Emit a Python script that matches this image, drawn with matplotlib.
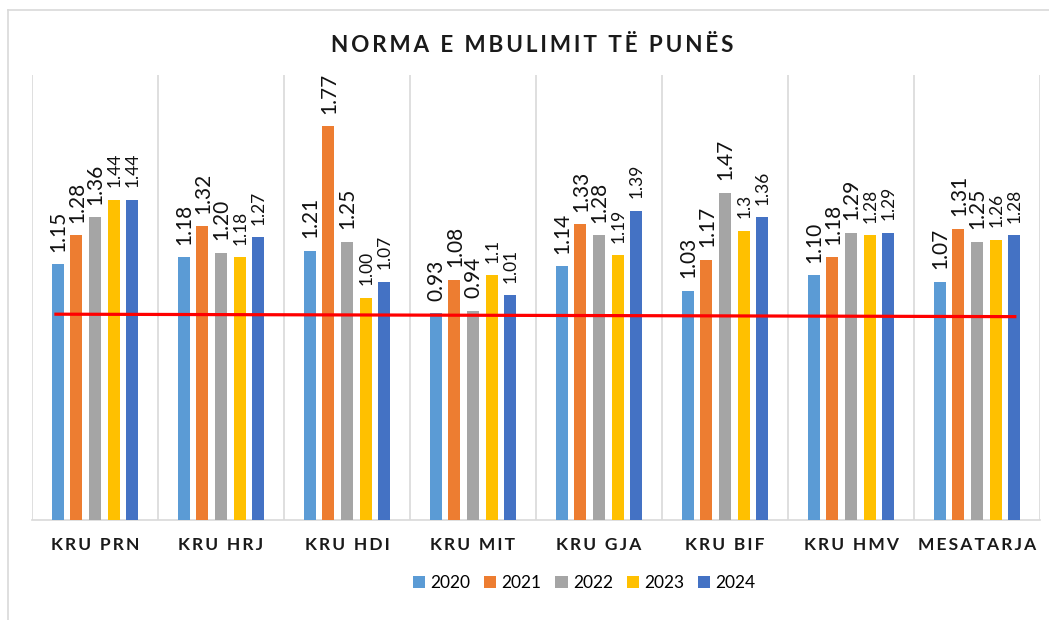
import matplotlib
matplotlib.use("Agg")
import matplotlib.pyplot as plt
import numpy as np

categories = ["KRU PRN", "KRU HRJ", "KRU HDI", "KRU MIT", "KRU GJA", "KRU BIF", "KRU HMV", "MESATARJA"]
years = ["2020", "2021", "2022", "2023", "2024"]
v2020 = [1.15, 1.18, 1.21, 0.93, 1.14, 1.03, 1.10, 1.07]
v2021 = [1.28, 1.32, 1.77, 1.08, 1.33, 1.17, 1.18, 1.31]
v2022 = [1.36, 1.20, 1.25, 0.94, 1.28, 1.47, 1.29, 1.25]
v2023 = [1.44, 1.18, 1.00, 1.10, 1.19, 1.30, 1.28, 1.26]
v2024 = [1.44, 1.27, 1.07, 1.01, 1.39, 1.36, 1.29, 1.28]
labels2020 = ["1.15", "1.18", "1.21", "0.93", "1.14", "1.03", "1.10", "1.07"]
labels2021 = ["1.28", "1.32", "1.77", "1.08", "1.33", "1.17", "1.18", "1.31"]
labels2022 = ["1.36", "1.20", "1.25", "0.94", "1.28", "1.47", "1.29", "1.25"]
labels2023 = ["1.44", "1.18", "1.00", "1.1", "1.19", "1.3", "1.28", "1.26"]
labels2024 = ["1.44", "1.27", "1.07", "1.01", "1.39", "1.36", "1.29", "1.28"]
red_line = [0.925, 0.914]

series = [v2020, v2021, v2022, v2023, v2024]
series_labels = [labels2020, labels2021, labels2022, labels2023, labels2024]
colors = ["#5B9BD5", "#ED7D31", "#A5A5A5", "#FFC000", "#4472C4"]
label_sizes = [15, 15, 15, 12.5, 12.5]

plt.rcParams['font.family'] = ['Lato', 'DejaVu Sans']

fig = plt.figure(figsize=(10.49, 6.2), dpi=100)
ax = fig.add_axes([32/1049, 100/620, 1008/1049, 445/620])

x = np.arange(len(categories))
step = 0.148
width = 0.095
for i, (vals, labs) in enumerate(zip(series, series_labels)):
    pos = x + (i - 2) * step
    ax.bar(pos, vals, width=width, color=colors[i], label=years[i], zorder=3)
    for px, v, t in zip(pos, vals, labs):
        ax.annotate(t, (px, v), xytext=(0.5, 9), textcoords="offset points",
                    rotation=90, ha="center", va="bottom",
                    fontsize=label_sizes[i], color="#111111", zorder=4)

ax.plot([x[0] - 0.31, x[-1] + 0.30], red_line, color="#FF0000", lw=2.3, zorder=5)

ax.set_xlim(-0.5, len(categories) - 0.5)
ax.set_ylim(0, 2.0)
for b in np.arange(-0.5, len(categories), 1.0):
    ax.axvline(b, color="#D9D9D9", lw=1.2, zorder=1)
for s in ["top", "left", "right"]:
    ax.spines[s].set_visible(False)
ax.spines["bottom"].set_color("#D9D9D9")
ax.spines["bottom"].set_linewidth(1.2)
ax.set_yticks([])
ax.set_xticks(x)

def spread(s):
    return "\u2002".join("\u2009".join(list(w)) for w in s.split(" "))

ax.set_xticklabels([spread(c) for c in categories], fontsize=12.5, fontweight="bold", color="#1a1a1a")
ax.tick_params(axis="x", length=0, pad=12)

fig.text(0.507, 1 - 45/620, spread("NORMA E MBULIMIT TË PUNËS"), ha="center", va="center",
         fontsize=16.2, fontweight="bold", color="#1a1a1a")

fig.legend(loc="center", bbox_to_anchor=(0.557, 1 - 583/620), ncol=5,
           frameon=False, fontsize=12.5, handlelength=0.7, handleheight=0.7,
           handletextpad=0.3, columnspacing=0.8)

fig.add_artist(plt.Line2D([8/1049, 1], [1 - 10/620, 1 - 10/620], transform=fig.transFigure,
                          color="#D9D9D9", lw=1.2))
fig.add_artist(plt.Line2D([8/1049, 8/1049], [0, 1 - 10/620], transform=fig.transFigure,
                          color="#D9D9D9", lw=1.2))

fig.savefig("out.png", dpi=100)
